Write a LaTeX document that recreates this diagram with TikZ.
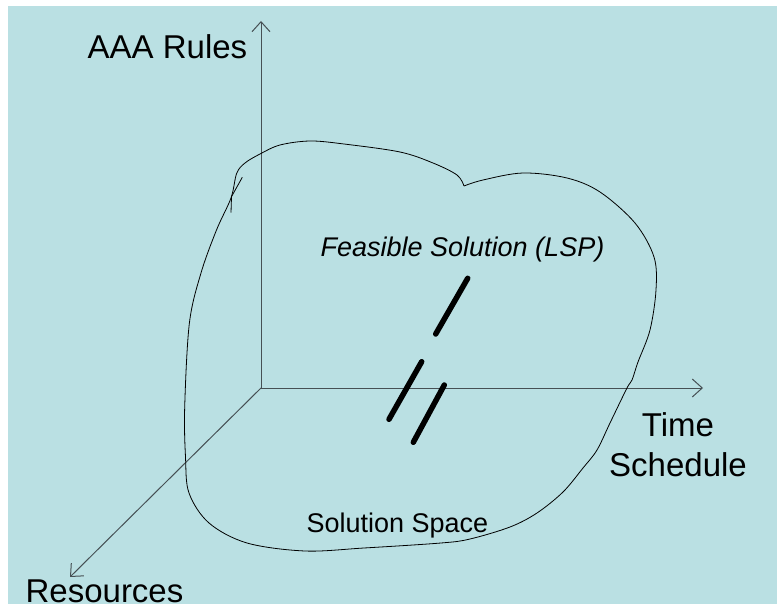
\documentclass[tikz,border=0pt]{standalone}
\usepackage{fontspec}
\setmainfont{Liberation Sans}
\usetikzlibrary{arrows.meta}
\definecolor{bgteal}{RGB}{186,224,227}
\definecolor{axisgray}{RGB}{70,80,84}
\tikzset{
  axisline/.style={draw=axisgray, line width=1pt, -{Straight Barb[length=10pt,width=18pt]}},
  blobline/.style={draw=black, line width=0.8pt},
  thickbar/.style={draw=black, line width=5.5pt, line cap=round},
  biglabel/.style={inner sep=0pt, anchor=base, font=\fontsize{33}{40}\selectfont},
  smalllabel/.style={inner sep=0pt, anchor=base, font=\fontsize{27}{32}\selectfont},
}
\begin{document}
\begin{tikzpicture}[x=1pt,y=-1pt]
\useasboundingbox (0,0) rectangle (777,604);
\fill[bgteal] (8,6) rectangle (777,604);

% axes
\coordinate (O) at (261,388);
\coordinate (ztop) at (261,21);
\coordinate (xend) at (703,388);
\coordinate (yend) at (70,577);
\draw[axisline] (O) -- (ztop);
\draw[axisline] (O) -- (xend);
\draw[axisline] (O) -- (yend);

% solution space blob
\draw[blobline] plot[smooth, tension=0.55] coordinates {
  (464,186) (483,180) (523,173) (567,178) (600,192) (635,223) (654,257)
  (656,290) (650,330) (638,362) (632,380) (627,388) (610,423) (597,450)
  (583,468) (563,492) (537,513) (510,527) (470,539) (441,543) (364,548)
  (305,551) (247,543) (209,523) (189,493) (185.5,457) (184.7,407)
  (189.4,323) (201,273) (216.5,230) (231,198) (236.7,173.3) (245,163)
  (260,154) (280,145) (310,141) (344,144) (400,152) (433,163) (457,175)
  (464,186)};
\draw[blobline] (242.3,177.3) -- (231.5,196.7) -- (231,212.7);

% feasible solution bars
\draw[thickbar] (467.7,278.3) -- (435.7,334);
\draw[thickbar] (421.7,361.7) -- (389,419.3);
\draw[thickbar] (444.3,385) -- (413.3,442.3);

% labels
\node[biglabel] (aaa) at (167.5,58.3) {AAA Rules};
\node[biglabel] (time) at (678,436) {Time};
\node[biglabel] (sched) at (678,476) {Schedule};
\node[biglabel] (res) at (104.5,602.5) {Resources};
\node[smalllabel] (feas) at (462.5,256.7) {\itshape Feasible Solution (LSP)};
\node[smalllabel] (space) at (397.5,532.7) {Solution Space};
\end{tikzpicture}
\end{document}
